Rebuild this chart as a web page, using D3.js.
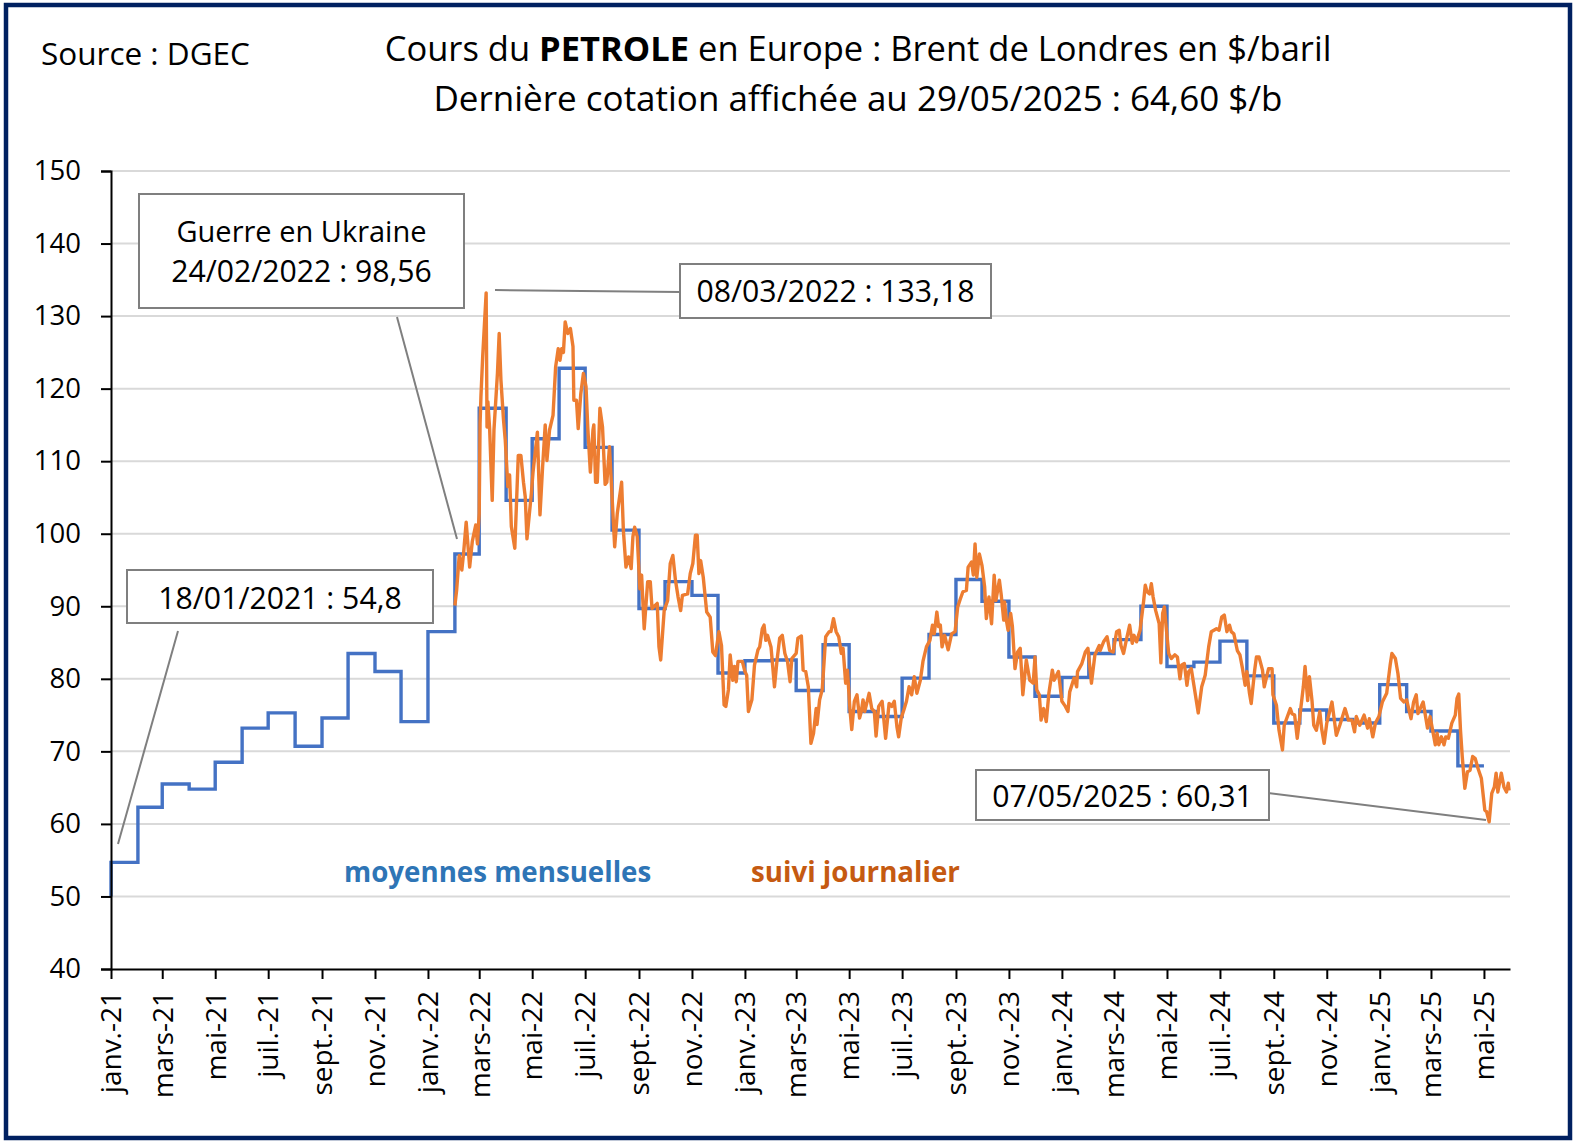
<!DOCTYPE html>
<html>
<head>
<meta charset="utf-8">
<script src="https://cdn.jsdelivr.net/npm/d3@7"></script>
<style>
  body { margin: 0; background: #fff; }
  text { font-family: "Open Sans", Lato, sans-serif; fill: #000; }
</style>
</head>
<body>
<div id="chart"></div>
<script>
// month names used on the x axis
const monthNames = ["janv.", "févr.", "mars", "avr.", "mai", "juin", "juil.", "août", "sept.", "oct.", "nov.", "déc."];

// monthly averages, one value per month from janv.-21 to avr.-25
const monthlyStartValue = 50;
const monthlyValues = [
  54.7, 62.3, 65.5, 64.8, 68.5, 73.2, 75.3, 70.7, 74.6, 83.5, 81.0, 74.1,
  86.5, 97.2, 117.3, 104.6, 113.1, 122.8, 111.9, 100.5, 89.7, 93.4, 91.5, 80.8,
  82.5, 82.6, 78.4, 84.7, 75.5, 74.8, 80.1, 86.1, 93.7, 90.7, 83.0, 77.6,
  80.2, 83.5, 85.4, 90.0, 81.7, 82.3, 85.2, 80.4, 73.9, 75.7, 74.4, 73.9,
  79.2, 75.5, 72.8, 68.0
];

// daily follow-up: days since 01/01/2021 and $/b
const dailyDays = [
  396, 398, 401, 404, 406, 409, 413, 416, 420, 422,
  424, 425, 426, 428, 432, 433, 434, 436, 439, 441,
  445, 447, 449, 452, 454, 457, 459, 461, 465, 469,
  472, 475, 477, 479, 484, 486, 491, 494, 497, 500,
  502, 505, 509, 512, 515, 517, 519, 521, 523, 526,
  529, 532, 533, 536, 538, 541, 544, 547, 549, 552,
  555, 556, 558, 560, 563, 566, 569, 571, 574, 576,
  580, 583, 588, 590, 593, 596, 599, 601, 603, 606,
  609, 611, 614, 618, 621, 623, 629, 631, 633, 637,
  641, 644, 647, 650, 653, 656, 658, 664, 667, 670,
  673, 675, 677, 679, 682, 686, 690, 693, 696, 700,
  703, 706, 708, 711, 713, 716, 718, 720, 722, 727,
  730, 732, 734, 738, 741, 745, 747, 750, 752, 754,
  756, 760, 762, 764, 767, 770, 773, 776, 779, 782,
  784, 789, 791, 795, 797, 800, 803, 806, 809, 812,
  813, 816, 819, 821, 823, 827, 829, 832, 835, 838,
  841, 843, 846, 848, 851, 853, 856, 859, 862, 864,
  866, 868, 873, 876, 879, 881, 884, 888, 892, 896,
  899, 902, 905, 907, 910, 913, 916, 919, 922, 925,
  928, 932, 935, 939, 943, 946, 948, 951, 953, 955,
  957, 960, 964, 968, 972, 975, 978, 981, 985, 987,
  991, 993, 995, 997, 1000, 1003, 1006, 1008, 1011, 1014,
  1017, 1019, 1023, 1025, 1028, 1029, 1031, 1033, 1036, 1038,
  1041, 1044, 1047, 1050, 1054, 1058, 1062, 1064, 1066, 1069,
  1071, 1074, 1077, 1080, 1084, 1086, 1091, 1095, 1099, 1102,
  1104, 1109, 1112, 1113, 1118, 1122, 1125, 1129, 1133, 1138,
  1139, 1143, 1147, 1150, 1154, 1158, 1161, 1163, 1166, 1170,
  1173, 1176, 1178, 1181, 1185, 1189, 1191, 1193, 1196, 1198,
  1200, 1203, 1207, 1209, 1211, 1213, 1215, 1218, 1221, 1225,
  1228, 1231, 1233, 1236, 1239, 1241, 1244, 1247, 1252, 1256,
  1260, 1264, 1267, 1273, 1276, 1279, 1282, 1285, 1288, 1290,
  1293, 1297, 1300, 1303, 1306, 1308, 1311, 1313, 1317, 1319,
  1322, 1326, 1328, 1333, 1337, 1338, 1342, 1345, 1349, 1351,
  1358, 1360, 1363, 1366, 1369, 1373, 1375, 1378, 1380, 1383,
  1385, 1388, 1392, 1394, 1397, 1400, 1406, 1411, 1415, 1421,
  1425, 1429, 1432, 1434, 1438, 1443, 1447, 1449, 1453, 1456,
  1460, 1464, 1469, 1473, 1475, 1479, 1482, 1485, 1489, 1492,
  1497, 1500, 1503, 1505, 1511, 1516, 1519, 1525, 1527, 1529,
  1532, 1535, 1537, 1540, 1544, 1548, 1550, 1552, 1554, 1556,
  1559, 1562, 1565, 1568, 1571, 1574, 1578, 1582, 1584, 1587,
  1590, 1593, 1595, 1597, 1601, 1604, 1607, 1609, 1610
];
const dailyValues = [
  90.1, 92.2, 97, 95, 97.3, 101.6, 95.4, 98.9, 101.2, 98.6,
  102.8, 115.2, 118.9, 124.4, 133.2, 114.7, 118.2, 114.5, 104.6, 114.3,
  122.1, 127.6, 121.2, 115.7, 112.9, 106.5, 108.1, 101, 98, 110.8,
  110.8, 107.1, 105.1, 99.3, 105.5, 108.5, 114, 102.6, 109.2, 115,
  110.1, 114.3, 116.3, 123, 125.5, 123.9, 125.5, 125, 129.2, 127.6,
  128.3, 125.8, 118.4, 118.4, 114.5, 119.3, 122.1, 120.3, 114.7, 108.5,
  114.3, 115, 107.1, 107.1, 117.3, 114.7, 106.8, 107.1, 112, 107.4,
  98.2, 102.8, 107.1, 100.5, 95.4, 96.8, 95.2, 99.6, 100.9, 99.6,
  92.4, 94.3, 86.9, 93.4, 93.4, 89.7, 90.4, 84.4, 82.6, 89.4,
  90.8, 95.9, 97, 93.6, 91.3, 89.4, 91.5, 91.7, 94.5, 95.9,
  99.8, 99.8, 94.5, 96.3, 94, 89.2, 88.5, 83.7, 83.2, 86.5,
  84.6, 76.4, 76.2, 78.5, 83.3, 79.8, 81.7, 79.6, 82.4, 82.4,
  81, 80.5, 75.5, 77.1, 81.9, 84, 84.4, 86.9, 87.4, 85.3,
  86, 84.4, 81.7, 78.9, 82.6, 85.6, 86, 83.5, 82.4, 79.6,
  82.8, 83.5, 85.6, 85.9, 81.2, 81, 78.9, 71.1, 72.5, 75.9,
  73.7, 77.1, 78.5, 82.1, 85.8, 86.5, 86.5, 88.3, 86.5, 85.8,
  83.5, 84.2, 79.4, 81.2, 75.7, 73, 76.9, 77.8, 74.6, 75.5,
  77.1, 75.5, 78, 75.9, 75.5, 72.1, 76.2, 76.9, 71.8, 76.6,
  76.2, 76.9, 73.4, 72, 74.6, 75.7, 76.9, 78.9, 77.8, 80.3,
  78, 79.8, 82.4, 84.4, 85.3, 87.4, 86.2, 89.2, 87.2, 87.4,
  84.4, 86, 84, 86.2, 86.5, 89.9, 91, 92, 92.2, 95.4,
  96.1, 94.3, 98.6, 94, 97.2, 95.6, 92.7, 88.3, 91.3, 87.6,
  94.3, 90.8, 93.6, 91.7, 88.1, 90.6, 88.1, 86.7, 89, 87.2,
  81.4, 83.7, 84.2, 77.8, 82.6, 79.8, 79.4, 83, 78.5, 77.8,
  74.3, 75.9, 74.1, 78, 81.2, 79.8, 81, 76.9, 76.2, 75.5,
  78.2, 80.1, 78.9, 81, 82.1, 83.7, 84.2, 79.4, 83.3, 84.6,
  83.9, 85.1, 85.8, 83.9, 83.7, 86.5, 86.7, 84.6, 83.5, 85.8,
  87.4, 84.9, 86, 85.1, 86.7, 90.6, 92.9, 92, 91.7, 93.1,
  91.3, 89.4, 87.6, 82.2, 89, 89.9, 87.2, 83.5, 82.8, 83.3,
  83, 80, 81.9, 82.1, 79.1, 81, 81.4, 79.1, 75.3, 78.9,
  80.5, 84.4, 86.5, 86.9, 86.7, 88.5, 88.8, 86.5, 87.4, 86.5,
  86.2, 83.9, 83.3, 81.4, 79.1, 81, 78, 76.6, 81.2, 83,
  83, 81.2, 78.9, 81.4, 81.4, 77.8, 76.4, 72.9, 70.2, 73.6,
  75.9, 75.2, 75, 71.8, 74.8, 78.9, 81.7, 77, 80.3, 77,
  73.6, 72.9, 75.5, 73.2, 71.1, 73.9, 76.8, 72.2, 73.6, 75.9,
  74.3, 74.3, 72.7, 74.8, 73.6, 75, 73.2, 74.5, 72, 73.9,
  74.8, 76.8, 78, 81.9, 83.5, 82.8, 80.7, 77.3, 76.8, 77.1,
  74.5, 76.8, 77.8, 75.2, 76.8, 73.2, 74.8, 70.9, 72.5, 70.9,
  72, 70.9, 72, 71.8, 73.9, 75, 77.3, 77.9, 72.9, 69.3,
  64.9, 67.2, 67.4, 69.3, 69, 67.7, 66.3, 61.9, 61.7, 60.3,
  64.2, 65.1, 67, 64.4, 67, 65.1, 64.4, 65.6, 64.6
];

const yTicks = [40, 50, 60, 70, 80, 90, 100, 110, 120, 130, 140, 150];

const width = 1575, height = 1142;
const margin = {top: 171, right: 65, bottom: 173, left: 111};

const start = new Date(2021, 0, 1);
const end = new Date(2025, 4, 31);

const svg = d3.select("#chart").append("svg")
    .attr("width", width)
    .attr("height", height)
    .style("display", "block");

// navy frame
svg.append("rect")
    .attr("x", 6).attr("y", 5)
    .attr("width", 1564).attr("height", 1133)
    .attr("fill", "#fff")
    .attr("stroke", "#002060")
    .attr("stroke-width", 4.5);

let x = d3.scaleTime().domain([start, end]).range([margin.left, width - margin.right]);
let y = d3.scaleLinear().domain([40, 150]).range([height - margin.bottom, margin.top]);

// gridlines
svg.append("g").selectAll("line")
    .data(yTicks.slice(1))
    .join("line")
    .attr("x1", margin.left).attr("x2", width - margin.right)
    .attr("y1", d => y(d)).attr("y2", d => y(d))
    .attr("stroke", "#d9d9d9")
    .attr("stroke-width", 2);

// monthly averages as a step line
let monthly = [{date: start, value: monthlyStartValue}]
    .concat(monthlyValues.map((v, i) => ({date: d3.timeMonth.offset(start, i), value: v})));
monthly.push({date: d3.timeMonth.offset(start, monthlyValues.length), value: monthlyValues[monthlyValues.length - 1]});

let stepLine = d3.line()
    .x(d => x(d.date))
    .y(d => y(d.value))
    .curve(d3.curveStepAfter);

svg.append("path")
    .datum(monthly)
    .attr("fill", "none")
    .attr("stroke", "#4472c4")
    .attr("stroke-width", 3.4)
    .attr("d", stepLine);

// daily follow-up
let daily = dailyDays.map((d, i) => ({date: d3.timeDay.offset(start, d), value: dailyValues[i]}));

let dailyLine = d3.line()
    .x(d => x(d.date))
    .y(d => y(d.value));

svg.append("path")
    .datum(daily)
    .attr("fill", "none")
    .attr("stroke", "#ed7d31")
    .attr("stroke-width", 3.4)
    .attr("stroke-linejoin", "round")
    .attr("d", dailyLine);

// axes
let yAxis = d3.axisLeft(y).tickValues(yTicks).tickSize(10).tickPadding(20).tickFormat(d3.format("d"));
let yG = svg.append("g").attr("transform", `translate(${margin.left},0)`).call(yAxis);
yG.selectAll("text").style("font-size", "27.5px");
yG.selectAll("line,path").attr("stroke", "#000").attr("stroke-width", 2);

let monthTicks = d3.range(0, 53, 2).map(i => d3.timeMonth.offset(start, i));
let monthLabel = d => `${monthNames[d.getMonth()]}-${String(d.getFullYear()).slice(2)}`;

let xAxis = d3.axisBottom(x).tickValues(monthTicks).tickSize(10).tickSizeOuter(0).tickFormat(monthLabel);
let xG = svg.append("g").attr("transform", `translate(0,${height - margin.bottom})`).call(xAxis);
xG.selectAll("line,path").attr("stroke", "#000").attr("stroke-width", 2);
xG.selectAll("text")
    .style("font-size", "28px")
    .attr("text-anchor", "end")
    .attr("transform", "rotate(-90)")
    .attr("x", -22)
    .attr("y", 0)
    .attr("dy", "0.35em");

// titles
svg.append("text").attr("x", 41).attr("y", 65).style("font-size", "31.5px").text("Source : DGEC");

let title = svg.append("text").attr("x", 858).attr("y", 61).attr("text-anchor", "middle").style("font-size", "34.5px");
title.append("tspan").text("Cours du ");
title.append("tspan").style("font-weight", "bold").text("PETROLE");
title.append("tspan").text(" en Europe : Brent de Londres en $/baril");

svg.append("text").attr("x", 858).attr("y", 111).attr("text-anchor", "middle").style("font-size", "35px")
    .text("Dernière cotation affichée au 29/05/2025 : 64,60 $/b");

// series labels
svg.append("text").attr("x", 344).attr("y", 882).style("font-size", "27.7px").style("font-weight", "bold")
    .style("fill", "#2e75b6").text("moyennes mensuelles");
svg.append("text").attr("x", 751).attr("y", 882).style("font-size", "27.7px").style("font-weight", "bold")
    .style("fill", "#c55a11").text("suivi journalier");

// annotation boxes with their leader lines
function callout(box, lines, leader) {
    svg.append("line")
        .attr("x1", leader[0]).attr("y1", leader[1])
        .attr("x2", leader[2]).attr("y2", leader[3])
        .attr("stroke", "#7f7f7f").attr("stroke-width", 2);
    svg.append("rect")
        .attr("x", box[0]).attr("y", box[1])
        .attr("width", box[2] - box[0]).attr("height", box[3] - box[1])
        .attr("fill", "#fff").attr("stroke", "#7f7f7f").attr("stroke-width", 2);
    lines.forEach(l => {
        svg.append("text")
            .attr("x", (box[0] + box[2]) / 2).attr("y", l.y)
            .attr("text-anchor", "middle")
            .style("font-size", (l.size || 30.2) + "px")
            .text(l.text);
    });
}

callout([139, 194, 464, 308],
    [{text: "Guerre en Ukraine", y: 242, size: 29}, {text: "24/02/2022 : 98,56", y: 282}],
    [397, 317, 457, 539]);
callout([680, 264, 991, 318], [{text: "08/03/2022 : 133,18", y: 302}], [495, 290, 680, 292]);
callout([127, 570, 433, 623], [{text: "18/01/2021 : 54,8", y: 609}], [178, 631, 118, 844]);
callout([976, 770, 1269, 820], [{text: "07/05/2025 : 60,31", y: 807}], [1268, 793, 1486, 820]);
</script>
</body>
</html>
